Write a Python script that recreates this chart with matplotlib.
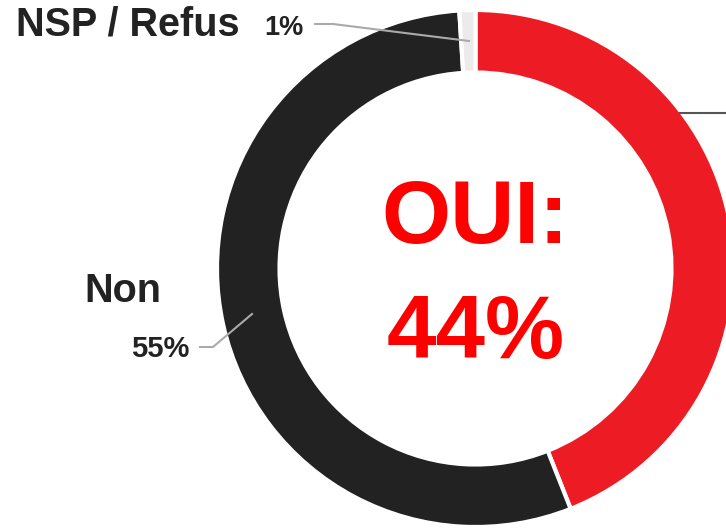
import matplotlib.pyplot as plt

plt.rcParams['font.family'] = ['Liberation Sans', 'DejaVu Sans']

# data
labels = ['Oui', 'Non', 'NSP / Refus']
values = [44, 55, 1]
pct_labels = ['44%', '55%', '1%']
colors = ['#ED1C24', '#222222', '#EBEBEB']

W, H = 726, 529
fig = plt.figure(figsize=(W / 100, H / 100), dpi=100)
ax = fig.add_axes([0, 0, 1, 1])

cx, cy = 475.5, H - 268.5
R = 258.5
ax.pie(values, colors=colors, startangle=90, counterclock=False,
       center=(cx, cy), radius=R,
       wedgeprops=dict(width=R - 196, edgecolor='white', linewidth=3))
ax.set_xlim(0, W)
ax.set_ylim(0, H)
ax.set_aspect('equal')
ax.axis('off')

# center text
ax.text(cx, H - 243, 'OUI:', color='#FF0000', fontsize=64, fontweight='bold',
        ha='center', va='baseline')
ax.text(cx, H - 358, pct_labels[0], color='#FF0000', fontsize=64, fontweight='bold',
        ha='center', va='baseline')

# NSP label
ax.text(16, H - 36, labels[2], color='#222222', fontsize=28.5, fontweight='bold',
        ha='left', va='baseline')
ax.text(264, H - 35, pct_labels[2], color='#222222', fontsize=19.5, fontweight='bold',
        ha='left', va='baseline')
ax.plot([315, 333, 469], [H - 24, H - 24, H - 41], color='#AAAAAA', lw=1.5)

# Non label
ax.text(84, H - 302, labels[1], color='#222222', fontsize=28.5, fontweight='bold',
        ha='left', va='baseline')
ax.text(131, H - 357, pct_labels[1], color='#222222', fontsize=21, fontweight='bold',
        ha='left', va='baseline')
ax.plot([200, 213, 252], [H - 347, H - 347, H - 314], color='#AAAAAA', lw=1.5)

# Oui leader (label off-canvas)
ax.plot([680, 740], [H - 113, H - 113], color='#555555', lw=1.5, clip_on=False)

fig.savefig('out.png', dpi=100)
